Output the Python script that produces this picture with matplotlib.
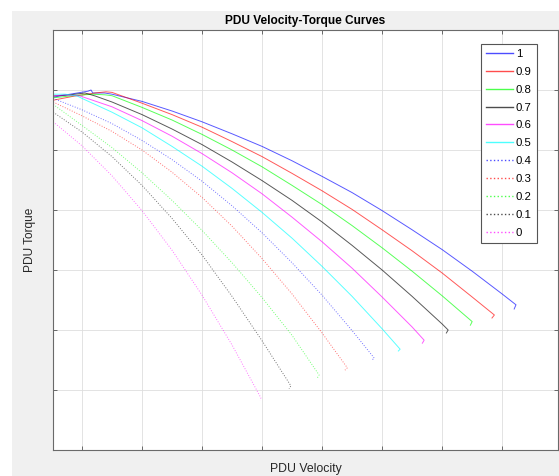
import matplotlib
matplotlib.use("Agg")
import matplotlib.pyplot as plt
from matplotlib.patches import Rectangle

plt.rcParams["font.family"] = ["Liberation Sans", "DejaVu Sans"]

# 各开度下的速度-扭矩曲线（速度 rpm，扭矩 N·m），数值读自原图
vel_10 = [-480, -200, 100, 150, 180, 380, 500, 1000, 1500, 2000, 2500, 3000, 3500, 4000,
          4500, 5000, 5500, 6000, 6500, 7000, 7230, 7200]
trq_10 = [58.8, 59.3, 59.8, 60.0, 59.5, 59.5, 59.3, 58.1, 56.5, 54.7, 52.7, 50.6, 48.2, 45.6,
          42.9, 39.9, 36.7, 33.4, 29.8, 26.0, 24.2, 23.5]

vel_09 = [-480, -120, 220, 400, 500, 1000, 1500, 2000, 2500, 3000, 3500, 4000, 4500, 5000,
          5500, 6000, 6500, 6870, 6830]
trq_09 = [58.3, 59.0, 59.5, 59.7, 59.6, 57.8, 55.9, 53.8, 51.4, 48.9, 46.1, 43.2, 40.1, 36.7,
          33.2, 29.5, 25.5, 22.5, 22.0]

vel_08 = [-480, -200, 170, 380, 500, 1000, 1500, 2000, 2500, 3000, 3500, 4000, 4500, 5000,
          5500, 6000, 6500, 6470]
trq_08 = [58.7, 59.0, 59.3, 59.2, 59.05, 57.1, 55.0, 52.6, 50.0, 47.2, 44.1, 40.9, 37.4, 33.7,
          29.8, 25.7, 21.4, 20.8]

vel_07 = [-480, -200, 50, 220, 500, 1000, 1500, 2000, 2500, 3000, 3500, 4000, 4500, 5000,
          5500, 6000, 6100, 6070]
trq_07 = [59.0, 59.2, 59.5, 59.0, 58.0, 55.9, 53.5, 50.9, 48.0, 44.9, 41.6, 38.0, 34.1, 30.0,
          25.6, 21.0, 20.0, 19.5]

vel_06 = [-480, -280, -30, 500, 1000, 1500, 2000, 2500, 3000, 3500, 4000, 4500, 5000, 5500,
          5700, 5670]
trq_06 = [59.0, 59.2, 59.0, 57.2, 54.9, 52.3, 49.4, 46.2, 42.7, 38.8, 34.7, 30.3, 25.5, 20.5,
          18.3, 17.8]

vel_05 = [-480, -280, -80, 0, 500, 1000, 1500, 2000, 2500, 3000, 3500, 4000, 4500, 5000,
          5300, 5270]
trq_05 = [59.3, 59.3, 59.0, 58.6, 56.3, 53.7, 50.6, 47.3, 43.6, 39.6, 35.3, 30.6, 25.6, 20.2,
          16.8, 16.5]

vel_04 = [-480, 0, 500, 1000, 1500, 2000, 2500, 3000, 3500, 4000, 4500, 4870, 4830]
trq_04 = [58.6, 56.7, 54.4, 51.6, 48.4, 44.8, 40.7, 36.2, 31.2, 25.8, 19.9, 15.3, 15.0]

vel_03 = [-480, 0, 500, 1000, 1500, 2000, 2500, 3000, 3500, 4000, 4420, 4380]
trq_03 = [58.0, 55.7, 53.1, 50.0, 46.3, 42.1, 37.3, 31.9, 26.0, 19.5, 13.7, 13.3]

vel_02 = [-480, 0, 500, 1000, 1500, 2000, 2500, 3000, 3500, 3950, 3920]
trq_02 = [57.6, 54.1, 50.4, 46.2, 41.6, 36.6, 31.2, 25.4, 19.1, 12.5, 12.0]

vel_01 = [-480, 0, 500, 1000, 1500, 2000, 2500, 3000, 3480, 3450]
trq_01 = [56.3, 53.0, 48.9, 44.1, 38.6, 32.5, 25.6, 18.2, 10.7, 10.2]

vel_00 = [-480, 0, 500, 1000, 1500, 2000, 2500, 2980, 2970]
trq_00 = [54.7, 50.7, 45.7, 39.9, 33.3, 25.8, 17.5, 8.7, 8.3]

labels = ["1", "0.9", "0.8", "0.7", "0.6", "0.5", "0.4", "0.3", "0.2", "0.1", "0"]
# MATLAB 的 b r g k m c
colors = ["#0000ff", "#ff0000", "#00ff00", "#000000", "#ff00ff", "#00ffff",
          "#0000ff", "#ff0000", "#00ff00", "#000000", "#ff00ff"]
styles = ["-"] * 6 + [":"] * 5

series = [
    (vel_10, trq_10), (vel_09, trq_09), (vel_08, trq_08), (vel_07, trq_07),
    (vel_06, trq_06), (vel_05, trq_05), (vel_04, trq_04), (vel_03, trq_03),
    (vel_02, trq_02), (vel_01, trq_01), (vel_00, trq_00),
]

W, H = 559, 476
fig = plt.figure(figsize=(W / 100, H / 100), dpi=100)
fig.patch.set_facecolor("white")
# MATLAB 风格灰色底
fig.patches.append(Rectangle((12 / W, 0), 1, 1 - 11 / H, transform=fig.transFigure,
                             facecolor="#f0f0f0", edgecolor="none", zorder=-10))

ax = fig.add_axes([53 / W, 1 - 450 / H, (558 - 53) / W, (450 - 30) / H])
ax.set_facecolor("white")

for (v, t), lab, c, ls in zip(series, labels, colors, styles):
    alpha = 0.65 if ls == "-" else 0.55
    ax.plot(v, t, color=c, linestyle=ls, linewidth=0.7, alpha=alpha, label=lab)

ax.set_xlim(-483, 7930)
ax.set_ylim(0, 70)
ax.set_xticks(range(0, 8000, 1000))
ax.set_yticks(range(0, 71, 10))
ax.set_xticklabels([])
ax.set_yticklabels([])
ax.tick_params(direction="in", length=3, width=0.6, colors="#555555",
               top=True, right=True)
ax.grid(True, color="#dedede", linewidth=0.6)
ax.set_axisbelow(True)
for sp in ax.spines.values():
    sp.set_color("#6a6a6a")
    sp.set_linewidth(0.8)

ax.set_title("PDU Velocity-Torque Curves", fontsize=8.6, fontweight="bold", pad=4)
ax.set_xlabel("PDU Velocity", fontsize=8.8, labelpad=6, color="#262626")
ax.set_ylabel("PDU Torque", fontsize=8.6, labelpad=9, color="#262626")

leg = ax.legend(loc="upper right", bbox_to_anchor=(0.958, 0.967), borderaxespad=0,
                fontsize=8.2, fancybox=False, framealpha=1, edgecolor="#555555",
                handlelength=2.35, handletextpad=0.25, labelspacing=0.69,
                borderpad=0.45)
leg.get_frame().set_linewidth(0.8)
for ln in leg.get_lines():
    ln.set_linewidth(1.0)
    ln.set_alpha(0.7)

fig.savefig("out.png", dpi=100)
